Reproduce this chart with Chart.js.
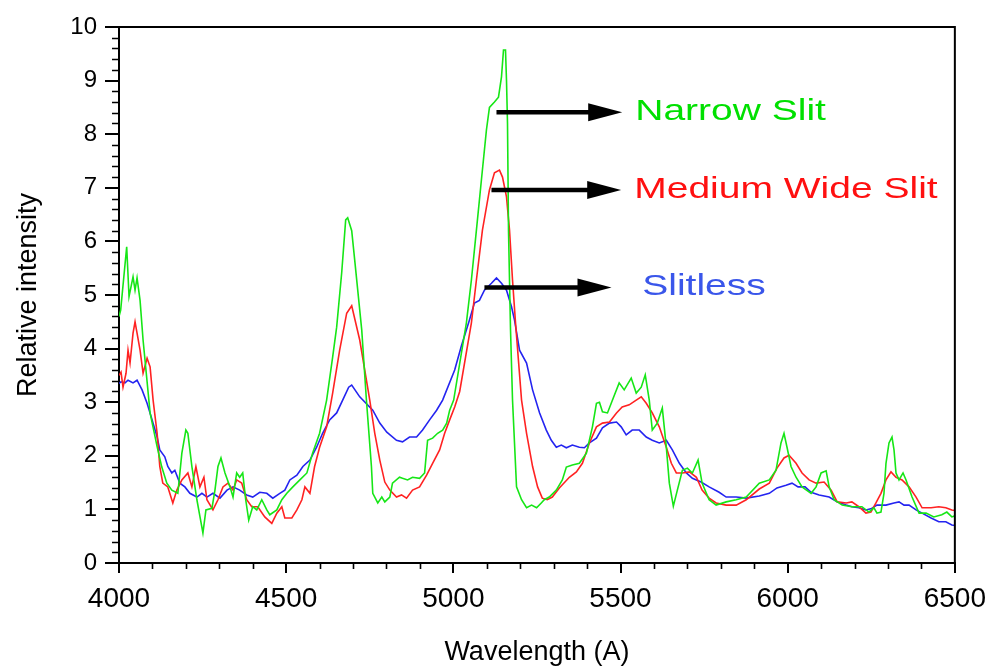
<!DOCTYPE html>
<html>
<head>
<meta charset="utf-8">
<script src="https://cdn.jsdelivr.net/npm/chart.js@4.4.1/dist/chart.umd.min.js"></script>
<style>
  html, body { margin: 0; padding: 0; background: #fff; }
  #wrap { width: 995px; height: 669px; }
</style>
</head>
<body>
<div id="wrap"><canvas id="spectrum" width="995" height="669"></canvas></div>
<script>
// Narrow slit (green)
const narrowWl = [
  4000,4005,4023,4030,4042,4048,4054,4063,4072,4093,
  4114,4128,4143,4158,4176,4188,4200,4206,4218,4233,
  4242,4251,4260,4278,4287,4296,4305,4317,4332,4341,
  4352,4361,4370,4379,4388,4400,4412,4427,4442,4451,
  4472,4487,4502,4520,4541,4562,4579,4600,4621,4639,
  4651,4666,4678,4684,4696,4705,4726,4740,4755,4759,
  4774,4786,4795,4810,4818,4839,4848,4863,4878,4899,
  4914,4923,4938,4953,4968,4980,4989,5001,5039,5054,
  5069,5084,5099,5108,5123,5135,5144,5150,5156,5159,
  5162,5165,5171,5177,5189,5204,5219,5234,5249,5263,
  5272,5287,5308,5326,5338,5356,5377,5398,5416,5428,
  5437,5446,5461,5476,5496,5511,5532,5547,5562,5574,
  5586,5595,5610,5625,5637,5646,5658,5670,5685,5700,
  5715,5732,5744,5765,5786,5816,5846,5876,5915,5945,
  5965,5980,5989,5998,6010,6025,6043,6070,6085,6100,
  6115,6124,6139,6163,6192,6222,6243,6258,6267,6279,
  6288,6294,6303,6312,6318,6324,6333,6345,6354,6372,
  6393,6414,6437,6461,6476,6491,6500
];
const narrowVal = [
  4.60,4.72,5.90,4.97,5.34,5.09,5.32,4.90,4.16,2.80,
  2.17,1.79,1.49,1.36,1.30,2.05,2.48,2.42,1.80,1.18,
  0.87,0.56,0.99,1.02,1.36,1.80,1.96,1.68,1.42,1.23,
  1.68,1.60,1.68,1.18,0.80,1.05,0.99,1.18,0.99,0.90,
  0.99,1.18,1.30,1.42,1.55,1.68,2.05,2.42,3.04,3.84,
  4.40,5.41,6.40,6.44,6.20,5.65,4.35,3.04,1.80,1.30,
  1.12,1.23,1.14,1.23,1.49,1.60,1.58,1.55,1.60,1.58,
  1.68,2.29,2.33,2.42,2.48,2.61,2.85,3.04,4.48,5.28,
  6.21,7.15,8.08,8.50,8.60,8.69,9.07,9.57,9.57,9.00,
  8.20,6.20,4.35,3.04,1.42,1.18,1.03,1.08,1.03,1.12,
  1.18,1.23,1.36,1.55,1.79,1.83,1.86,2.05,2.54,2.98,
  3.00,2.82,2.80,3.04,3.36,3.23,3.45,3.17,3.28,3.51,
  3.04,2.48,2.61,2.89,2.16,1.49,1.06,1.36,1.73,1.77,
  1.68,1.92,1.49,1.18,1.08,1.14,1.18,1.23,1.49,1.55,
  1.73,2.24,2.42,2.16,1.80,1.60,1.42,1.30,1.42,1.68,
  1.72,1.42,1.18,1.08,1.05,1.05,0.95,1.03,0.93,0.95,
  1.30,1.86,2.24,2.35,2.11,1.68,1.55,1.68,1.55,1.23,
  0.93,0.93,0.86,0.90,0.95,0.86,0.88
];

// Medium wide slit (red)
const mediumWl = [
  4000,4006,4012,4021,4027,4033,4042,4048,4054,4063,
  4072,4084,4093,4102,4114,4122,4131,4146,4161,4173,
  4188,4206,4218,4230,4242,4254,4263,4281,4296,4311,
  4326,4341,4352,4367,4382,4397,4415,4436,4457,4472,
  4487,4496,4517,4532,4547,4556,4571,4585,4600,4621,
  4639,4660,4681,4696,4720,4750,4765,4780,4795,4810,
  4830,4845,4860,4878,4899,4920,4938,4959,4974,4989,
  5004,5019,5054,5069,5087,5108,5123,5138,5147,5159,
  5168,5177,5186,5204,5219,5237,5252,5266,5281,5296,
  5317,5347,5368,5386,5407,5428,5446,5467,5488,5505,
  5526,5547,5562,5577,5595,5616,5637,5652,5667,5685,
  5706,5727,5744,5765,5786,5816,5846,5876,5915,5945,
  5968,5989,6004,6025,6043,6064,6085,6109,6130,6148,
  6175,6192,6213,6234,6249,6264,6279,6294,6309,6324,
  6342,6363,6384,6402,6429,6452,6473,6491,6500
];
const mediumVal = [
  3.50,3.56,3.28,3.54,3.97,3.73,4.29,4.50,4.29,3.97,
  3.54,3.82,3.66,3.04,2.42,1.80,1.49,1.42,1.12,1.36,
  1.55,1.68,1.42,1.80,1.42,1.60,1.18,0.99,1.18,1.42,
  1.49,1.36,1.55,1.49,1.18,1.05,1.05,0.86,0.74,0.93,
  1.05,0.84,0.84,0.99,1.18,1.42,1.30,1.80,2.16,2.54,
  3.17,3.97,4.66,4.80,4.16,3.04,2.42,1.92,1.51,1.36,
  1.23,1.27,1.21,1.36,1.42,1.64,1.86,2.11,2.42,2.67,
  2.91,3.20,4.48,5.28,6.21,6.96,7.28,7.33,7.20,6.83,
  6.21,5.28,4.48,3.04,2.42,1.80,1.42,1.21,1.18,1.23,
  1.40,1.60,1.70,1.86,2.24,2.54,2.61,2.63,2.80,2.91,
  2.95,3.04,3.10,2.98,2.80,2.54,2.16,1.86,1.68,1.68,
  1.70,1.60,1.36,1.21,1.12,1.08,1.08,1.18,1.38,1.49,
  1.77,1.96,2.01,1.86,1.68,1.55,1.49,1.51,1.36,1.14,
  1.12,1.14,1.05,0.93,0.95,1.12,1.30,1.55,1.70,1.60,
  1.55,1.42,1.23,1.03,1.03,1.05,1.03,0.99,0.98
];

// Slitless (blue)
const slitlessWl = [
  4000,4006,4018,4027,4042,4054,4069,4084,4099,4114,
  4122,4137,4146,4158,4167,4182,4197,4212,4233,4248,
  4263,4281,4302,4323,4341,4361,4382,4400,4421,4442,
  4460,4481,4496,4511,4532,4550,4571,4591,4609,4630,
  4651,4669,4687,4696,4720,4759,4780,4801,4830,4848,
  4869,4890,4908,4929,4950,4968,5004,5024,5048,5063,
  5078,5093,5114,5129,5144,5159,5174,5183,5198,5219,
  5237,5258,5278,5293,5308,5323,5338,5356,5377,5392,
  5407,5428,5446,5467,5488,5502,5517,5535,5556,5577,
  5595,5616,5637,5655,5676,5697,5715,5741,5765,5795,
  5816,5846,5876,5915,5945,5968,5995,6013,6031,6052,
  6070,6094,6124,6148,6175,6192,6213,6234,6249,6267,
  6294,6318,6333,6348,6363,6384,6402,6429,6452,6473,
  6491,6500
];
const slitlessVal = [
  3.35,3.38,3.36,3.41,3.36,3.41,3.23,2.98,2.67,2.35,
  2.11,1.98,1.80,1.68,1.73,1.49,1.42,1.30,1.23,1.30,
  1.23,1.30,1.21,1.36,1.42,1.36,1.27,1.23,1.32,1.30,
  1.21,1.30,1.36,1.55,1.64,1.80,1.92,2.16,2.42,2.67,
  2.80,3.04,3.28,3.32,3.10,2.85,2.61,2.44,2.29,2.26,
  2.35,2.35,2.48,2.67,2.85,3.04,3.60,4.05,4.53,4.85,
  4.90,5.09,5.22,5.32,5.22,5.09,4.78,4.53,3.97,3.73,
  3.23,2.80,2.48,2.29,2.16,2.20,2.15,2.20,2.16,2.15,
  2.24,2.33,2.52,2.61,2.63,2.54,2.39,2.48,2.48,2.35,
  2.29,2.24,2.29,2.11,1.86,1.68,1.58,1.51,1.42,1.32,
  1.23,1.23,1.21,1.25,1.30,1.40,1.45,1.49,1.42,1.42,
  1.32,1.27,1.23,1.14,1.08,1.05,1.03,0.99,1.01,1.08,
  1.08,1.12,1.14,1.08,1.08,0.99,0.93,0.84,0.77,0.77,
  0.71,0.70
];

const seriesNames = ['Narrow Slit', 'Medium Wide Slit', 'Slitless'];

// callouts: arrow from/to and text anchor, in data units (wavelength, intensity)
const callouts = [
  { text: 'Narrow Slit',      color: '#00e000', from: [5129, 8.41], to: [5505, 8.41], at: [5544, 8.26] },
  { text: 'Medium Wide Slit', color: '#ff1010', from: [5114, 6.96], to: [5502, 6.96], at: [5541, 6.81] },
  { text: 'Slitless',         color: '#3a56ea', from: [5093, 5.14], to: [5473, 5.14], at: [5565, 5.00] }
];

function toPoints(wl, val) {
  return wl.map((w, i) => ({ x: w, y: val[i] }));
}

const frameAndNotes = {
  id: 'frameAndNotes',
  afterDraw(chart) {
    const { ctx, chartArea: a, scales: { x, y } } = chart;
    ctx.save();

    // top and right frame
    ctx.strokeStyle = '#000';
    ctx.lineWidth = 2;
    ctx.beginPath();
    ctx.moveTo(a.left, a.top);
    ctx.lineTo(a.right, a.top);
    ctx.lineTo(a.right, a.bottom);
    ctx.stroke();

    // minor ticks
    ctx.lineWidth = 1.6;
    ctx.beginPath();
    for (let i = 1; i < 50; i++) {
      if (i % 5 === 0) continue;
      const py = Math.round(y.getPixelForValue(i / 5)) + 0.5;
      ctx.moveTo(a.left - 7, py);
      ctx.lineTo(a.left, py);
    }
    for (let w = 4100; w < 6500; w += 100) {
      if (w % 500 === 0) continue;
      const px = Math.round(x.getPixelForValue(w)) + 0.5;
      ctx.moveTo(px, a.bottom);
      ctx.lineTo(px, a.bottom + 6);
    }
    ctx.stroke();

    // arrows + labels
    callouts.forEach(c => {
      const x0 = x.getPixelForValue(c.from[0]);
      const x1 = x.getPixelForValue(c.to[0]);
      const yy = y.getPixelForValue(c.from[1]);
      ctx.strokeStyle = '#000';
      ctx.fillStyle = '#000';
      ctx.lineWidth = 4.5;
      ctx.beginPath();
      ctx.moveTo(x0, yy);
      ctx.lineTo(x1 - 30, yy);
      ctx.stroke();
      ctx.beginPath();
      ctx.moveTo(x1, yy);
      ctx.lineTo(x1 - 34, yy - 9);
      ctx.lineTo(x1 - 34, yy + 9);
      ctx.closePath();
      ctx.fill();

      ctx.save();
      ctx.translate(x.getPixelForValue(c.at[0]), y.getPixelForValue(c.at[1]));
      ctx.scale(1.3, 1);
      ctx.font = '30px "Liberation Sans", Arial, sans-serif';
      ctx.fillStyle = c.color;
      ctx.textBaseline = 'alphabetic';
      ctx.fillText(c.text, 0, 0);
      ctx.restore();
    });

    ctx.restore();
  }
};

const ctx = document.getElementById('spectrum').getContext('2d');
new Chart(ctx, {
  type: 'line',
  data: {
    datasets: [
      { label: seriesNames[0], data: toPoints(narrowWl, narrowVal), borderColor: '#16e616' },
      { label: seriesNames[1], data: toPoints(mediumWl, mediumVal), borderColor: '#ff2222' },
      { label: seriesNames[2], data: toPoints(slitlessWl, slitlessVal), borderColor: '#2424f0' }
    ]
  },
  options: {
    responsive: false,
    devicePixelRatio: 1,
    animation: false,
    parsing: false,
    datasets: {
      line: { borderWidth: 1.6, pointRadius: 0, tension: 0, fill: false }
    },
    layout: { padding: { top: 27, right: 39, left: 0, bottom: 0 } },
    plugins: {
      legend: { display: false },
      tooltip: { enabled: false }
    },
    scales: {
      x: {
        type: 'linear',
        min: 4000,
        max: 6500,
        afterFit: s => { s.height = 106; },
        ticks: {
          stepSize: 500,
          color: '#000',
          padding: 9,
          font: { family: '"Liberation Sans", Arial, sans-serif', size: 28 },
          callback: v => String(v)
        },
        grid: { drawOnChartArea: false, tickLength: 10, color: '#000', lineWidth: 2 },
        border: { color: '#000', width: 2 },
        title: {
          display: true,
          text: 'Wavelength (A)',
          color: '#000',
          padding: { top: 12, bottom: 0 },
          font: { family: '"Liberation Sans", Arial, sans-serif', size: 27 }
        }
      },
      y: {
        min: 0,
        max: 10,
        afterFit: s => { s.width = 119; },
        ticks: {
          stepSize: 1,
          color: '#000',
          padding: 8,
          font: { family: '"Liberation Sans", Arial, sans-serif', size: 24 }
        },
        grid: { drawOnChartArea: false, tickLength: 14, color: '#000', lineWidth: 2 },
        border: { color: '#000', width: 2 },
        title: {
          display: true,
          text: 'Relative intensity',
          color: '#000',
          padding: { top: 12, bottom: 0 },
          font: { family: '"Liberation Sans", Arial, sans-serif', size: 27 }
        }
      }
    }
  },
  plugins: [frameAndNotes]
});
</script>
</body>
</html>
